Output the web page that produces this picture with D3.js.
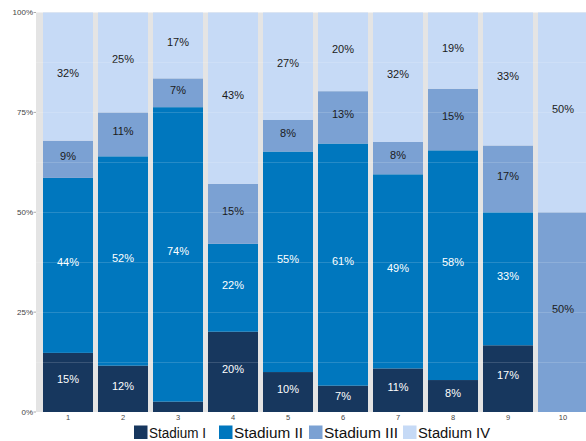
<!DOCTYPE html>
<html><head><meta charset="utf-8">
<script src="https://cdn.jsdelivr.net/npm/d3@7"></script>
<style>body{margin:0;background:#fff}svg{display:block;font-family:"Liberation Sans",Arial,sans-serif}</style>
</head><body><svg id="c" width="586" height="441"></svg>
<script>
const categories = ["1","2","3","4","5","6","7","8","9","10"];
const seriesNames = ["Stadium I","Stadium II","Stadium III","Stadium IV"];
const stadiumI   = [14.8, 11.6, 2.6, 20.1, 10.0, 6.6, 10.9, 8.0, 16.7, 0];
const stadiumII  = [43.8, 52.4, 73.7, 22.0, 55.2, 60.6, 48.6, 57.5, 33.3, 0];
const stadiumIII = [9.3, 11.0, 7.2, 15.0, 7.9, 13.1, 8.1, 15.4, 16.7, 50];
const stadiumIV  = [32.1, 25.0, 16.5, 42.9, 26.9, 19.7, 32.4, 19.1, 33.3, 50];
const yTicks = [0, 25, 50, 75, 100];
const colors = ["#17375E", "#0077BE", "#7BA1D3", "#C6DAF6"];
const textColors = ["#ffffff", "#ffffff", "#1a1a1a", "#1a1a1a"];

const series = [stadiumI, stadiumII, stadiumIII, stadiumIV];
const rows = categories.map((c, i) => {
  const r = {cat: c};
  seriesNames.forEach((s, j) => r[s] = series[j][i]);
  return r;
});
const stacked = d3.stack().keys(seriesNames)(rows);

const svg = d3.select("#c");
const x = d3.scaleBand().domain(categories).range([40.5, 590.5]).paddingInner(5/55).paddingOuter(2.5/55);
const y = d3.scaleLinear().domain([0, 100]).range([412, 12.5]);

svg.append("rect").attr("x", 36).attr("y", y(100)).attr("width", 550).attr("height", y(0) - y(100)).attr("fill", "#e4e4e4");

const g = svg.append("g");
stacked.forEach((layer, j) => {
  g.selectAll(null).data(layer).enter().append("rect")
    .attr("x", d => x(d.data.cat))
    .attr("width", x.bandwidth())
    .attr("y", d => y(d[1]))
    .attr("height", d => y(d[0]) - y(d[1]))
    .attr("fill", colors[j]);
});

// faint grid
svg.append("g").selectAll("line").data(d3.range(12.5, 100, 12.5)).enter().append("line")
  .attr("x1", 36).attr("x2", 586).attr("y1", d => Math.round(y(d)) + 0.5).attr("y2", d => Math.round(y(d)) + 0.5)
  .attr("stroke", "#ffffff").attr("stroke-opacity", 0.15);

// labels
stacked.forEach((layer, j) => {
  g.selectAll(null).data(layer.filter(d => d[1] - d[0] >= 5)).enter().append("text")
    .attr("x", d => x(d.data.cat) + x.bandwidth() / 2)
    .attr("y", d => (y(d[0]) + y(d[1])) / 2 - 3)
    .attr("dy", "0.35em")
    .attr("text-anchor", "middle")
    .attr("font-size", 11)
    .attr("fill", textColors[j])
    .text(d => Math.round(d[1] - d[0]) + "%");
});

// y axis
const ya = svg.append("g");
ya.selectAll("text").data(yTicks).enter().append("text")
  .attr("x", 33).attr("y", d => y(d)).attr("dy", "0.35em")
  .attr("text-anchor", "end").attr("font-size", 8).attr("fill", "#444")
  .text(d => d + "%");
ya.selectAll("line").data(yTicks).enter().append("line")
  .attr("x1", 33.5).attr("x2", 36).attr("y1", d => y(d)).attr("y2", d => y(d))
  .attr("stroke", "#aaa").attr("stroke-width", 1);

// x axis
svg.append("g").selectAll("text").data(categories).enter().append("text")
  .attr("x", d => x(d) + x.bandwidth() / 2).attr("y", 417.5).attr("dy", "0.35em")
  .attr("text-anchor", "middle").attr("font-size", 7.5).attr("fill", "#444")
  .text(d => d);

// legend
const legX = [134, 219, 309, 403];
const legW = [57, 69, 74, 72];
const leg = svg.append("g");
seriesNames.forEach((s, j) => {
  leg.append("rect").attr("x", legX[j]).attr("y", 425.5).attr("width", 13.5).attr("height", 13.5).attr("fill", colors[j]);
  leg.append("text").attr("x", legX[j] + 15).attr("y", 437.5)
    .attr("font-size", 15.5).attr("fill", "#111")
    .attr("textLength", legW[j]).attr("lengthAdjust", "spacingAndGlyphs")
    .text(s);
});
</script></body></html>
